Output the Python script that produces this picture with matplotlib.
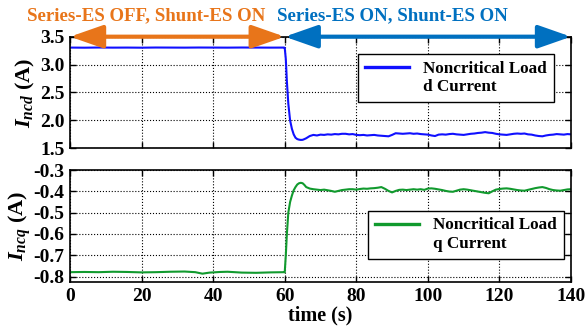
import matplotlib
matplotlib.use("Agg")
import matplotlib.pyplot as plt
from matplotlib.lines import Line2D

# ---- data ----
t_d = [0, 4, 8, 12, 16, 20, 24, 28, 32, 36, 40, 44, 48, 52, 56, 59.8,
       60.0, 60.3, 60.6, 61.0, 61.5, 62.0, 62.5, 63.0, 63.5, 64.0, 64.5, 65.0, 65.5, 66.0,
       67, 68, 69, 70, 71, 72, 73, 74, 75, 76, 77, 78, 79, 80, 81, 82, 83, 84, 85, 86,
       87, 88, 89, 90, 91, 92, 93, 94, 95, 96, 97, 98, 99, 100, 101, 102, 103, 104, 105,
       106, 107, 108, 109, 110, 111, 112, 113, 114, 115, 116, 117, 118, 119, 120, 121,
       122, 123, 124, 125, 126, 127, 128, 129, 130, 131, 132, 133, 134, 135, 136, 137,
       138, 139, 140]
i_ncd = [3.305, 3.303, 3.306, 3.304, 3.305, 3.303, 3.306, 3.305, 3.304, 3.306, 3.305, 3.304,
         3.306, 3.305, 3.304, 3.305,
         3.30, 3.10, 2.70, 2.30, 2.00, 1.85, 1.75, 1.69, 1.665, 1.655, 1.65, 1.652, 1.665, 1.68,
         1.72, 1.74, 1.73, 1.745, 1.74, 1.75, 1.745, 1.755, 1.75, 1.76, 1.76, 1.75, 1.755, 1.74,
         1.735, 1.74, 1.73, 1.735, 1.74, 1.73, 1.725, 1.72, 1.715, 1.74, 1.77, 1.765, 1.76,
         1.765, 1.77, 1.76, 1.765, 1.755, 1.75, 1.745, 1.73, 1.72, 1.745, 1.75, 1.745, 1.755,
         1.76, 1.75, 1.745, 1.74, 1.75, 1.76, 1.765, 1.775, 1.78, 1.79, 1.78, 1.775, 1.76, 1.75,
         1.745, 1.74, 1.75, 1.76, 1.765, 1.76, 1.765, 1.75, 1.745, 1.73, 1.72, 1.715, 1.73, 1.74,
         1.745, 1.755, 1.75, 1.745, 1.755, 1.75]

t_q = [0, 4, 8, 12, 16, 20, 24, 28, 32, 35, 37, 39, 42, 44, 48, 52, 56, 59.8,
       60.0, 60.3, 60.6, 61.0, 61.5, 62.0, 62.5, 63.0, 63.5, 64.0, 64.5, 65.0, 65.5, 66.0,
       67, 68, 69, 70, 71, 72, 73, 74, 75, 76, 77, 78, 79, 80, 81, 82, 83, 84, 85, 86,
       87, 88, 89, 90, 91, 92, 93, 94, 95, 96, 97, 98, 99, 100, 101, 102, 103, 104, 105,
       106, 107, 108, 109, 110, 111, 112, 113, 114, 115, 116, 117, 118, 119, 120, 121,
       122, 123, 124, 125, 126, 127, 128, 129, 130, 131, 132, 133, 134, 135, 136, 137,
       138, 139, 140]
i_ncq = [-0.779, -0.778, -0.779, -0.777, -0.778, -0.780, -0.779, -0.777, -0.776, -0.779,
         -0.786, -0.781, -0.778, -0.777, -0.781, -0.782, -0.780, -0.779,
         -0.780, -0.700, -0.600, -0.500, -0.450, -0.420, -0.395, -0.380, -0.368, -0.362,
         -0.360, -0.362, -0.370, -0.380,
         -0.387, -0.390, -0.392, -0.394, -0.392, -0.395, -0.398, -0.402, -0.398, -0.394,
         -0.392, -0.390, -0.390, -0.392, -0.389, -0.387, -0.388, -0.386, -0.385, -0.383,
         -0.380, -0.388, -0.398, -0.405, -0.398, -0.393, -0.392, -0.394, -0.392, -0.390,
         -0.392, -0.390, -0.393, -0.387, -0.386, -0.388, -0.391, -0.394, -0.398, -0.401,
         -0.402, -0.397, -0.392, -0.390, -0.392, -0.395, -0.398, -0.401, -0.404, -0.407,
         -0.409, -0.400, -0.392, -0.389, -0.387, -0.386, -0.388, -0.391, -0.394, -0.396,
         -0.397, -0.393, -0.389, -0.385, -0.382, -0.380, -0.384, -0.390, -0.394, -0.396,
         -0.397, -0.394, -0.391, -0.390]

x_ticks = [0, 20, 40, 60, 80, 100, 120, 140]
d_ticks = [1.5, 2.0, 2.5, 3.0, 3.5]
q_ticks = [-0.8, -0.7, -0.6, -0.5, -0.4, -0.3]
switch_time = 60

ORANGE = "#E8751A"
BLUE_HDR = "#0070C0"
BLUE = "#1010FF"
GREEN = "#119A2E"

plt.rcParams["font.family"] = "Liberation Serif"
plt.rcParams["font.weight"] = "bold"
plt.rcParams["axes.labelweight"] = "bold"
plt.rcParams["axes.unicode_minus"] = False
plt.rcParams["mathtext.fontset"] = "custom"
plt.rcParams["mathtext.it"] = "Liberation Serif:italic:bold"
plt.rcParams["mathtext.rm"] = "Liberation Serif:bold"

fig = plt.figure(figsize=(5.86, 3.30), dpi=100)
ax1 = fig.add_axes([0.1195, 0.5506, 0.8549, 0.3382])
ax2 = fig.add_axes([0.1195, 0.1455, 0.8549, 0.3393])

for ax in (ax1, ax2):
    ax.set_xlim(0, 140)
    ax.set_xticks(x_ticks)
    ax.tick_params(direction="in", length=4, width=1, top=True, right=True,
                   labelsize=14, pad=4)
    ax.grid(True, linestyle=":", color="black", linewidth=0.8)
    for s in ax.spines.values():
        s.set_linewidth(1.2)

ln1, = ax1.plot(t_d, i_ncd, color=BLUE, linewidth=1.5)
ax1.set_ylim(1.5, 3.5)
ax1.set_yticks(d_ticks)
ax1.set_yticklabels([f"{v:.1f}" for v in d_ticks])
ax1.tick_params(labelbottom=False)
ax1.set_ylabel(r"$I_{ncd}$ (A)", fontsize=16)
ax1.yaxis.set_label_coords(-0.066, 0.5)

ln2, = ax2.plot(t_q, i_ncq, color=GREEN, linewidth=1.5)
ax2.set_ylim(-0.825, -0.3)
ax2.set_yticks(q_ticks)
ax2.set_yticklabels([f"{v:.1f}" for v in q_ticks])
ax2.set_ylabel(r"$I_{ncq}$ (A)", fontsize=16)
ax2.yaxis.set_label_coords(-0.074, 0.5)
ax2.set_xlabel("time (s)", fontsize=14.5, labelpad=1)

blank = Line2D([], [], color="none")
leg_kw = dict(loc="upper left", borderaxespad=0, fancybox=False, framealpha=1,
              edgecolor="black", handlelength=2.6, labelspacing=0.15,
              prop={"family": "Liberation Serif", "weight": "bold", "size": 12.3})
lg1 = ax1.legend([ln1, blank], ["Noncritical Load", "d Current"],
                 bbox_to_anchor=(0.575, 0.845), **leg_kw)
lg2 = ax2.legend([ln2, blank], ["Noncritical Load", "q Current"],
                 bbox_to_anchor=(0.595, 0.637), **leg_kw)
for lg in (lg1, lg2):
    lg.get_frame().set_linewidth(1.0)
    lg.legend_handles[0].set_linewidth(2.4)

# mode arrows along the top edge
arrow_style = "<|-|>,head_length=2.0,head_width=0.7"
ax1.annotate("", xy=(switch_time, 3.5), xytext=(0, 3.5), annotation_clip=False,
             arrowprops=dict(arrowstyle=arrow_style, color=ORANGE, lw=3,
                             mutation_scale=10, shrinkA=0, shrinkB=0))
ax1.annotate("", xy=(140, 3.5), xytext=(switch_time, 3.5), annotation_clip=False,
             arrowprops=dict(arrowstyle=arrow_style, color=BLUE_HDR, lw=3,
                             mutation_scale=10, shrinkA=0, shrinkB=0))

fig.text(0.046, 0.953, "Series-ES OFF, Shunt-ES ON", color=ORANGE, fontsize=13.6,
         fontweight="bold", ha="left", va="center")
fig.text(0.473, 0.953, "Series-ES ON, Shunt-ES ON", color=BLUE_HDR, fontsize=13.6,
         fontweight="bold", ha="left", va="center")

fig.savefig("out.png", dpi=100)
